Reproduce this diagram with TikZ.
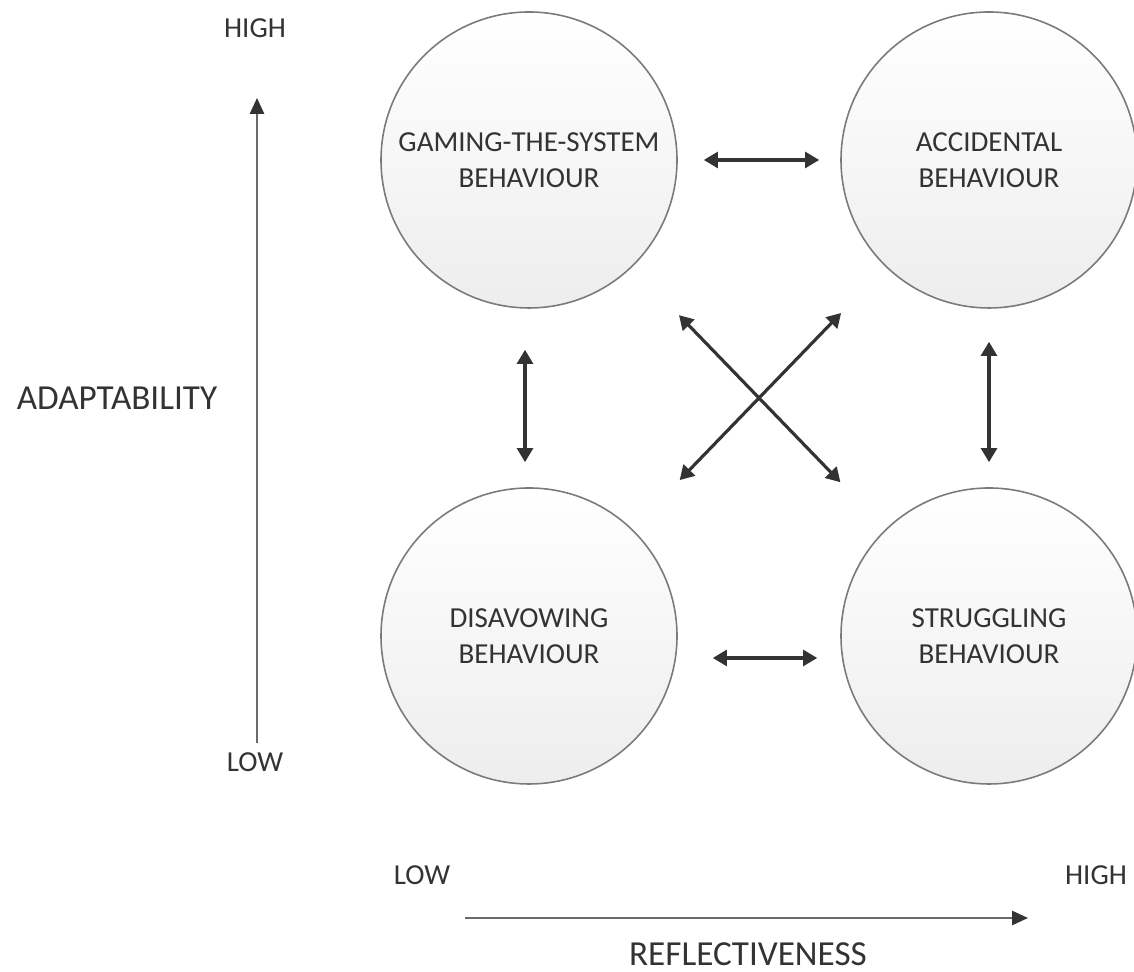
\documentclass[tikz,border=0pt]{standalone}
\usepackage{fontspec}
\setmainfont{Carlito}
\usepackage{tikz}
\usetikzlibrary{arrows.meta,calc}
\usepackage{xcolor}
\definecolor{inkgray}{HTML}{333333}
\definecolor{rimgray}{HTML}{7A7A7A}
\definecolor{axisgray}{HTML}{6A6A6A}
\newlength\nearshort
\newlength\farshort
\setlength{\nearshort}{0.5cm}
\setlength{\farshort}{1.32cm}
\newcommand{\behaviour}[3]{
   \node[bubble] (#1) at (#2) {#3\\BEHAVIOUR};
}

\begin{document}
\begin{tikzpicture}[
    bubble/.style={circle, draw=rimgray, line width=0.9pt, top color=white,
      bottom color=black!7, minimum size=5.92cm, inner sep=0pt, align=center,
      text=inkgray, font=\fontsize{16.5}{20.5}\selectfont},
    link/.style={{Triangle[length=8pt,width=9pt]}-{Triangle[length=8pt,width=9pt]},
      line width=1.8pt, draw=inkgray},
    axis/.style={-{Triangle[length=9pt,width=8pt,color=inkgray]}, line width=1.2pt, draw=axisgray},
    endlabel/.style={text=inkgray, font=\fontsize{16.5}{20}\selectfont},
    axislabel/.style={text=inkgray, font=\fontsize{20}{24}\selectfont}]
    \useasboundingbox (0,0) rectangle (22.68,19.44);
    % the four behaviours
    \behaviour{gaming}{10.58,16.24}{GAMING-THE-SYSTEM}
    \behaviour{accidental}{19.78,16.24}{ACCIDENTAL}
    \behaviour{disavowing}{10.58,6.72}{DISAVOWING}
    \behaviour{struggling}{19.78,6.72}{STRUGGLING}
    % links between them
    \draw[link, shorten <=0.52cm, shorten >=0.42cm] (gaming) -- (accidental);
    \draw[link, shorten <=0.7cm, shorten >=0.46cm] ([yshift=-0.44cm]disavowing.east) -- ([yshift=-0.44cm]struggling.west);
    \draw[link, shorten <=0.82cm, shorten >=\nearshort] ([xshift=-0.08cm]gaming.south) -- ([xshift=-0.08cm]disavowing.north);
    \draw[link, shorten <=0.66cm, shorten >=\nearshort] (accidental.south) -- (struggling.north);
    \draw[link, shorten <=1.34cm, shorten >=1.3cm] (gaming) -- (struggling);
    \draw[link, shorten <=1.28cm, shorten >=1.36cm] (accidental) -- (disavowing);
    % axes
    \coordinate (ylow) at (5.14,4.58);
    \coordinate (yhigh) at (5.14,17.48);
    \draw[axis] (ylow) -- (yhigh);
    \coordinate (xlow) at (9.3,1.08);
    \coordinate (xhigh) at (20.56,1.08);
    \draw[axis] (xlow) -- (xhigh);
    \node[endlabel] (ytop) at (5.10,18.88) {HIGH};
    \node[endlabel] (ybottom) at (5.10,4.20) {LOW};
    \node[axislabel] (adapt) at (2.34,11.48) {ADAPTABILITY};
    \node[endlabel] (xleft) at (8.44,1.94) {LOW};
    \node[endlabel] (xright) at (21.92,1.94) {HIGH};
    \node[axislabel] (reflect) at (14.96,0.36) {REFLECTIVENESS};
\end{tikzpicture}
\end{document}
